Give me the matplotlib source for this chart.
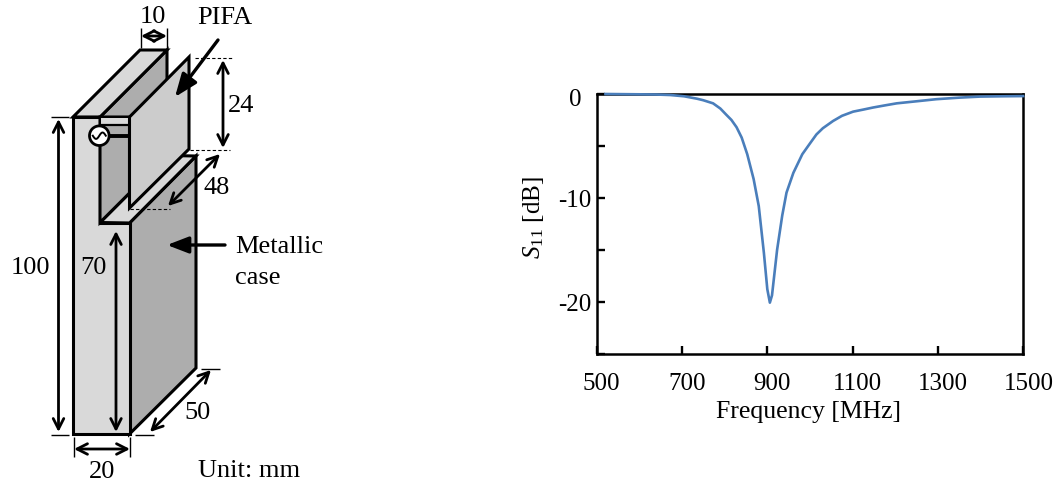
#imports
import numpy as np
import matplotlib
matplotlib.use('Agg')
import matplotlib.pyplot as plt
from matplotlib.patches import Polygon, Circle
from matplotlib.transforms import ScaledTranslation

plt.rcParams['font.family'] = ['Liberation Serif', 'DejaVu Serif']
plt.rcParams['mathtext.fontset'] = 'custom'
plt.rcParams['mathtext.rm'] = 'Liberation Serif'
plt.rcParams['mathtext.it'] = 'Liberation Serif:italic'

#chart data
freq = [521, 600, 640, 673, 705, 735, 750, 773, 790, 804, 816, 828, 840, 853, 868, 880, 892, 900, 906,
        911, 923, 935, 945, 961, 982, 1001, 1015, 1030, 1054, 1075, 1101, 1125, 1148, 1175, 1203,
        1250, 1296, 1350, 1398, 1450, 1499]
s11 = [0, -0.03, -0.05, -0.1, -0.22, -0.45, -0.6, -0.9, -1.4, -2.0, -2.5, -3.2, -4.2, -5.8, -8.2, -10.8,
       -15.3, -18.8, -20.1, -19.4, -15.0, -11.7, -9.5, -7.6, -5.8, -4.7, -3.9, -3.3, -2.6, -2.1, -1.7,
       -1.5, -1.3, -1.1, -0.9, -0.7, -0.5, -0.35, -0.25, -0.22, -0.2]
x_ticks = [500, 700, 900, 1100, 1300, 1500]
y_ticks = [0, -5, -10, -15, -20, -25]
y_tick_labels = ['0', '', '-10', '', '-20', '']

W, H = 1063, 485
FS = 18
SK_FS = 19
LIGHT = '#d9d9d9'
MID = '#cccccc'
DARK = '#adadad'

fig = plt.figure(figsize=(W/100, H/100), dpi=100)

#schematic is drawn on an overlay in pixel coordinates
sk = fig.add_axes([0, 0, 1, 1])
sk.set_xlim(0, W)
sk.set_ylim(H, 0)
sk.axis('off')

def poly(pts, fc, lw=2.2):
    sk.add_patch(Polygon(pts, closed=True, fc=fc, ec='black', lw=lw, joinstyle='miter'))

def line(p, q, lw=1.0, ls='-'):
    sk.plot([p[0], q[0]], [p[1], q[1]], color='black', lw=lw, ls=ls, solid_capstyle='butt')

def dim(p, q):
    sk.annotate('', xy=q, xytext=p, arrowprops=dict(arrowstyle='<->,head_length=0.75,head_width=0.38',
                color='black', lw=2.0, shrinkA=0, shrinkB=0))

def pointer(p, q, hl=1.4, hw=0.55):
    sk.annotate('', xy=q, xytext=p, arrowprops=dict(arrowstyle=f'-|>,head_length={hl},head_width={hw}',
                color='black', fc='black', lw=2.4, shrinkA=0, shrinkB=0))

def label(x, y, s, ha='center'):
    sk.text(x, y+2, s, fontsize=SK_FS, ha=ha, va='center', color='black')

#metallic case
poly([(100, 118), (167, 51), (167, 118), (100, 185)], DARK)
poly([(73, 118), (140, 51), (167, 51), (100, 118)], LIGHT)
poly([(129.5, 224), (196, 157), (196, 369), (129.5, 435)], DARK)
poly([(100, 223.5), (167, 156.5), (196, 157), (129.5, 224)], LIGHT)
poly([(73, 118), (100, 118), (100, 224), (129.5, 224), (129.5, 435), (73, 435)], LIGHT)
poly([(100, 118), (129.5, 118), (129.5, 194), (100, 223.5)], DARK)
sk.add_patch(Polygon([(101, 119), (129, 119), (129, 125), (101, 125)], fc=LIGHT, ec='none'))
line((100, 125.5), (129.5, 125.5), lw=1.6)

#PIFA plate and feed
poly([(129.5, 118), (189, 58), (189, 150), (129.5, 209)], MID)
line((105, 136.7), (129, 136.7), lw=2.8)
sk.add_patch(Circle((99.3, 136.7), 9.8, fc='white', ec='black', lw=2.0, zorder=3))
wave_x = np.linspace(-6.5, 6.5, 30)
sk.plot(99.3+wave_x, 136.7-3.2*np.sin(wave_x*np.pi/6.5), color='black', lw=1.4, zorder=4)

#extension lines
line((51, 118), (69, 118))
line((51, 435.5), (69, 435.5))
line((135, 436), (154, 436))
line((201, 370), (220, 370))
line((140.5, 29), (140.5, 49))
line((167, 29), (167, 49))
line((73.5, 438), (73.5, 458))
line((130, 438), (130, 458))
line((195, 58.5), (232, 58.5), lw=0.8, ls=(0, (3, 2)))
line((190, 151), (230, 151), lw=0.8, ls=(0, (3, 2)))
line((130, 210), (170, 210), lw=0.8, ls=(0, (3, 2)))

#dimensions
dim((141, 37), (167, 37))
dim((223, 61), (223, 149))
dim((220, 155), (168, 207))
dim((58.5, 120), (58.5, 433))
dim((116, 232), (116, 433))
dim((150, 433), (211, 371))
dim((74, 450), (130, 450))
pointer((218, 41), (175, 98))
pointer((225, 246), (167, 246), hl=1.3, hw=0.5)

label(153, 15, '10')
label(225, 16, 'PIFA')
label(241, 104, '24')
label(217, 186, '48')
label(30, 266, '100')
label(93, 266, '70')
label(197, 411, '50')
label(102, 470, '20')
label(235, 245, 'Metallic', ha='left')
label(235, 276, 'case', ha='left')
label(249, 469, 'Unit: mm')

#S11 plot
L, R, T, B = 596.5, 1023.5, 95, 354.5
ax = fig.add_axes([L/W, 1-B/H, (R-L)/W, (B-T)/H])
ax.plot(freq, s11, color='#4a7ebb', lw=1.9, clip_on=False, zorder=5)
ax.set_xlim(500, 1500)
ax.set_ylim(-25, 0)
ax.set_xticks(x_ticks)
ax.set_yticks(y_ticks)
ax.set_yticklabels(y_tick_labels)
ax.tick_params(direction='in', length=6, width=1.7, labelsize=FS, top=False, right=False)
ax.tick_params(axis='x', pad=13)
ax.tick_params(axis='y', pad=4)
for s in ax.spines.values():
    s.set_linewidth(1.8)
for lab in ax.get_xticklabels():
    lab.set_transform(lab.get_transform() + ScaledTranslation(5/100, 0, fig.dpi_scale_trans))
ax.get_yticklabels()[0].set_transform(ax.get_yticklabels()[0].get_transform()
                                      + ScaledTranslation(-9/100, -2/100, fig.dpi_scale_trans))
sk.text(808, 412, 'Frequency [MHz]', fontsize=18.5, ha='center', va='center')
sk.text(533, 218, '$S_{11}$ [dB]', fontsize=FS, ha='center', va='center', rotation=90)

fig.savefig('out.png', dpi=100)
